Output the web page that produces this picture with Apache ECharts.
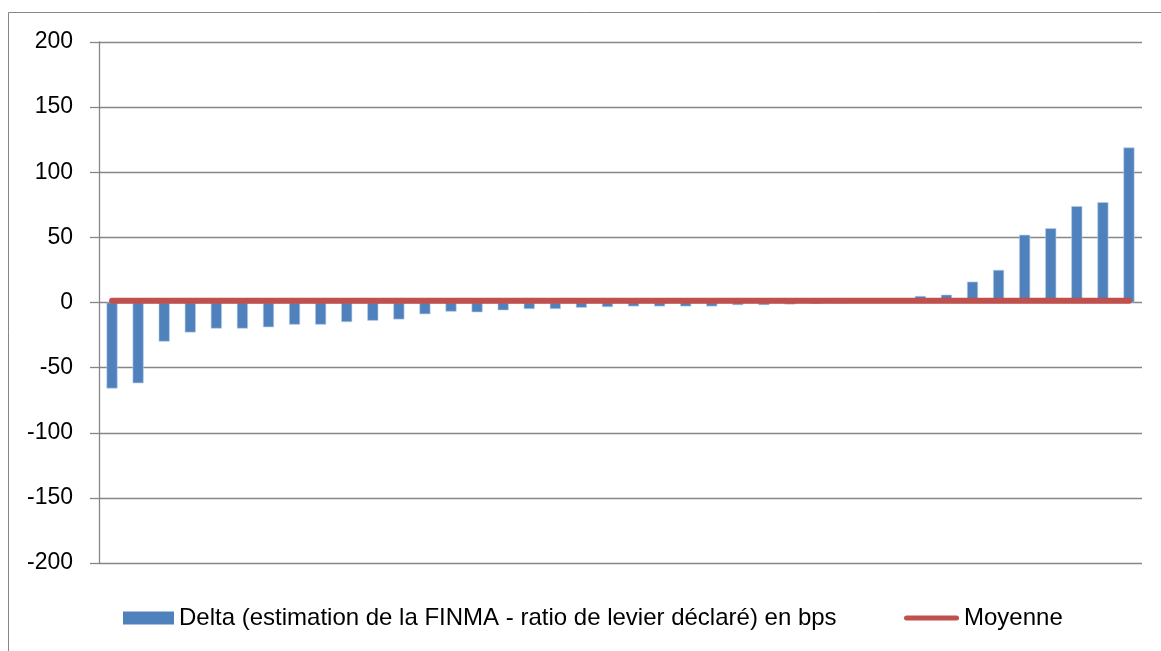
<!DOCTYPE html>
<html>
<head>
<meta charset="utf-8">
<script src="https://cdn.jsdelivr.net/npm/echarts@6/dist/echarts.min.js"></script>
<style>
html,body{margin:0;padding:0;background:#fff;}
#chart{width:1161px;height:651px;}
</style>
</head>
<body>
<div id="chart"></div>
<script>
const categories = Array.from({length: 40}, (_, i) => String(i + 1));
const deltaValues = [-66, -62, -30, -23, -20, -20, -19, -17, -17, -15, -14, -13, -9, -7,
  -7.5, -6, -5, -5, -4, -3.5, -3, -3, -3, -3, -2, -2, -1.5,
  -1, -0.5, 0.5, 1,
  5, 6, 16, 25, 52, 57, 74, 77, 119];
const meanValues = [1.3, 1.3, 1.3, 1.3, 1.3, 1.3, 1.3, 1.3, 1.3, 1.3,
  1.3, 1.3, 1.3, 1.3, 1.3, 1.3, 1.3, 1.3, 1.3, 1.3,
  1.3, 1.3, 1.3, 1.3, 1.3, 1.3, 1.3, 1.3, 1.3, 1.3,
  1.3, 1.3, 1.3, 1.3, 1.3, 1.3, 1.3, 1.3, 1.3, 1.3];
const yMin = -200, yMax = 200, yStep = 50;
const seriesNames = ['Delta (estimation de la FINMA - ratio de levier déclaré) en bps', 'Moyenne'];

const roundLine = 'path://M2.5,0 h50 a2.5,2.5 0 0 1 0,5 h-50 a2.5,2.5 0 0 1 0,-5 z';
const legendText = {fontFamily: '"Liberation Sans", Arial, sans-serif', fontSize: 24, lineHeight: 26, color: '#000'};

const chart = echarts.init(document.getElementById('chart'), null, {renderer: 'canvas'});
chart.setOption({
  animation: false,
  backgroundColor: '#ffffff',
  graphic: [
    {
      type: 'rect', silent: true,
      shape: {x: 8.5, y: 12.5, width: 1200, height: 700},
      style: {fill: 'none', stroke: '#868686', lineWidth: 1}
    }
  ],
  grid: {left: 99, right: 19, top: 42, bottom: 88, containLabel: false},
  legend: [
    {
      left: 118, top: 600, itemWidth: 51, itemHeight: 13,
      textStyle: legendText,
      data: [{name: seriesNames[0], icon: 'rect', itemStyle: {color: '#4F81BD', borderWidth: 0}}]
    },
    {
      left: 899, top: 600, itemWidth: 55, itemHeight: 13,
      textStyle: legendText,
      data: [{name: seriesNames[1], icon: roundLine, itemStyle: {color: '#C0504D', borderWidth: 0}}]
    }
  ],
  xAxis: {
    type: 'category', data: categories,
    axisLine: {show: false}, axisTick: {show: false}, axisLabel: {show: false},
    splitLine: {show: false}
  },
  yAxis: {
    type: 'value', min: yMin, max: yMax, interval: yStep,
    axisLine: {show: true, lineStyle: {color: '#868686', width: 1.3}},
    axisTick: {show: true, length: 9, lineStyle: {color: '#868686', width: 1.3}},
    axisLabel: {margin: 26, color: '#000', fontSize: 23, fontFamily: '"Liberation Sans", Arial, sans-serif'},
    splitLine: {show: true, lineStyle: {color: '#868686', width: 1.3}}
  },
  series: [
    {
      name: seriesNames[0], type: 'bar', data: deltaValues,
      barWidth: 11,
      itemStyle: {color: '#4F81BD', borderColor: '#B9CDE5', borderWidth: 0.6}
    },
    {
      name: seriesNames[1], type: 'line', data: meanValues,
      symbol: 'none', showSymbol: false, z: 5,
      lineStyle: {color: '#C0504D', width: 6, cap: 'round'},
      itemStyle: {color: '#C0504D'}
    }
  ]
});
</script>
</body>
</html>
